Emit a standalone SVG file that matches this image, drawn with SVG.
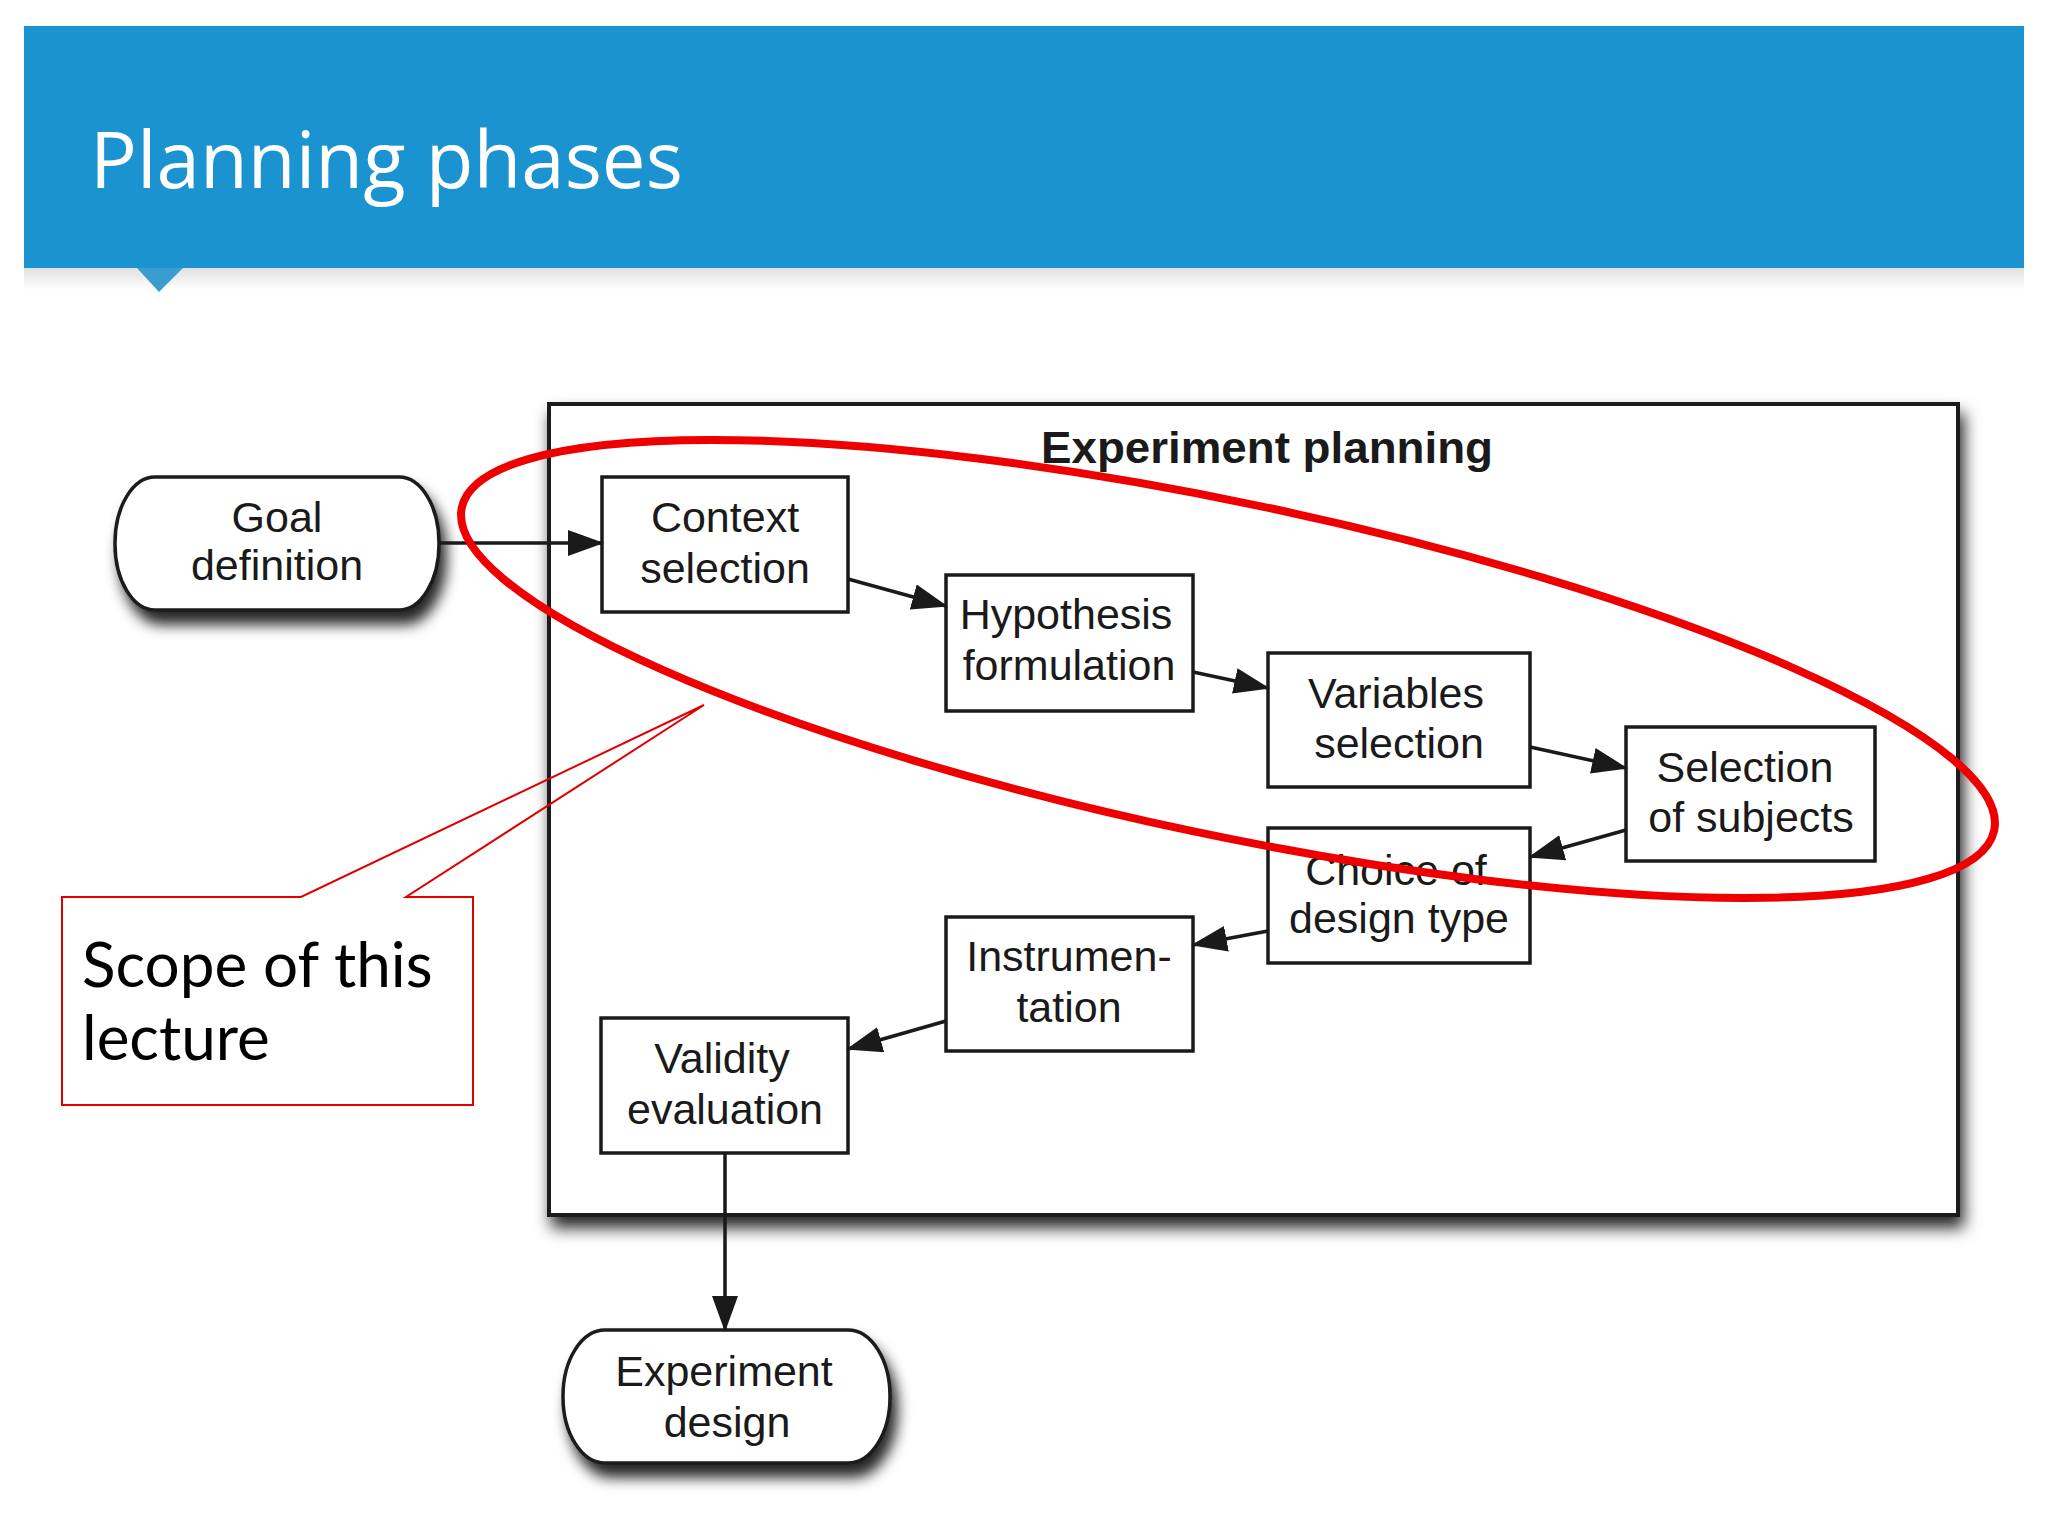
<svg xmlns="http://www.w3.org/2000/svg" width="2048" height="1536" viewBox="0 0 2048 1536">
<style>
.node{fill:#fff;stroke:#1a1a1a;stroke-width:3.5}
.lbl{font-family:"Liberation Sans",Arial,sans-serif;font-size:43px;fill:#1a1a1a;text-anchor:middle}
.edge{stroke:#1a1a1a;stroke-width:3.5;fill:none;marker-end:url(#ah)}
.callout{font-family:Lato,"Open Sans",sans-serif;font-size:62px;fill:#000}
</style>
<defs>
<marker id="ah" viewBox="0 0 36 26" markerWidth="36" markerHeight="26" refX="34" refY="13" orient="auto" markerUnits="userSpaceOnUse">
<path d="M0,0 L36,13 L0,26 z" fill="#1a1a1a"/>
</marker>
<filter id="capsh" x="-20%" y="-20%" width="150%" height="170%">
<feDropShadow dx="6" dy="13" stdDeviation="7" flood-color="#000" flood-opacity="0.85"/>
</filter>
<filter id="boxsh" x="-5%" y="-5%" width="112%" height="115%">
<feDropShadow dx="4" dy="11" stdDeviation="8" flood-color="#000" flood-opacity="0.85"/>
</filter>
<linearGradient id="hdrsh" x1="0" y1="0" x2="0" y2="1">
<stop offset="0" stop-color="#000" stop-opacity="0.12"/>
<stop offset="1" stop-color="#000" stop-opacity="0"/>
</linearGradient>
</defs>
<rect x="0" y="0" width="2048" height="1536" fill="#fff"/>

<g id="header">
<rect x="24" y="268" width="2000" height="22" fill="url(#hdrsh)"/>
<rect x="24" y="26" width="2000" height="242" fill="#1a93d0"/>
<path d="M137,268 L183,268 L159,292 z" fill="#3a9dcf"/>
<text x="90" y="188" font-family="'Open Sans','Noto Sans',sans-serif" font-size="78" fill="#fff">Planning phases</text>
</g>

<g id="experiment-planning">
<rect x="549" y="404" width="1409" height="811" fill="#fff" stroke="#1a1a1a" stroke-width="4" filter="url(#boxsh)"/>
<text x="1267" y="463" font-family="'Liberation Sans',Arial,sans-serif" font-size="44" font-weight="bold" fill="#1a1a1a" text-anchor="middle" textLength="452" lengthAdjust="spacingAndGlyphs">Experiment planning</text>
</g>

<g id="goal-definition">
<rect class="node" x="115" y="477" width="324" height="133" rx="40" ry="66" filter="url(#capsh)"/>
<text class="lbl" x="277" y="532">Goal</text>
<text class="lbl" x="277" y="580">definition</text>
</g>

<g id="context-selection">
<rect class="node" x="602" y="477" width="246" height="135"/>
<text class="lbl" x="725" y="532">Context</text>
<text class="lbl" x="725" y="583">selection</text>
</g>

<g id="hypothesis-formulation">
<rect class="node" x="946" y="575" width="247" height="136"/>
<text class="lbl" x="1066" y="629">Hypothesis</text>
<text class="lbl" x="1069" y="680">formulation</text>
</g>

<g id="variables-selection">
<rect class="node" x="1268" y="653" width="262" height="134"/>
<text class="lbl" x="1396" y="708">Variables</text>
<text class="lbl" x="1399" y="758">selection</text>
</g>

<g id="selection-of-subjects">
<rect class="node" x="1626" y="727" width="249" height="134"/>
<text class="lbl" x="1745" y="782">Selection</text>
<text class="lbl" x="1751" y="832">of subjects</text>
</g>

<g id="choice-of-design-type">
<rect class="node" x="1268" y="828" width="262" height="135"/>
<text class="lbl" x="1396" y="885">Choice of</text>
<text class="lbl" x="1399" y="933">design type</text>
</g>

<g id="instrumentation">
<rect class="node" x="946" y="917" width="247" height="134"/>
<text class="lbl" x="1069" y="971">Instrumen-</text>
<text class="lbl" x="1069" y="1022">tation</text>
</g>

<g id="validity-evaluation">
<rect class="node" x="601" y="1018" width="247" height="135"/>
<text class="lbl" x="722" y="1073">Validity</text>
<text class="lbl" x="725" y="1124">evaluation</text>
</g>

<g id="experiment-design">
<rect class="node" x="563" y="1330" width="327" height="133" rx="42" ry="66" filter="url(#capsh)"/>
<text class="lbl" x="724" y="1386">Experiment</text>
<text class="lbl" x="727" y="1437">design</text>
</g>

<g id="connectors">
<line class="edge" x1="439" y1="543" x2="602" y2="543"/>
<line class="edge" x1="848" y1="579" x2="946" y2="606"/>
<line class="edge" x1="1193" y1="672" x2="1268" y2="688"/>
<line class="edge" x1="1530" y1="747" x2="1626" y2="768"/>
<line class="edge" x1="1626" y1="830" x2="1530" y2="857"/>
<line class="edge" x1="1268" y1="931" x2="1193" y2="945"/>
<line class="edge" x1="946" y1="1021" x2="848" y2="1049"/>
<line class="edge" x1="725" y1="1153" x2="725" y2="1330"/>
</g>

<g id="scope-ellipse">
<ellipse cx="1228" cy="669" rx="783" ry="166" transform="rotate(11.9 1228 669)" fill="none" stroke="#ee0000" stroke-width="8"/>
</g>

<g id="scope-callout">
<path d="M62,897 L301,897 L704,705 L406,897 L473,897 L473,1105 L62,1105 z" fill="none" stroke="#e00000" stroke-width="2"/>
<text class="callout" x="82" y="987">Scope of this</text>
<text class="callout" x="82" y="1060">lecture</text>
</g>
</svg>
